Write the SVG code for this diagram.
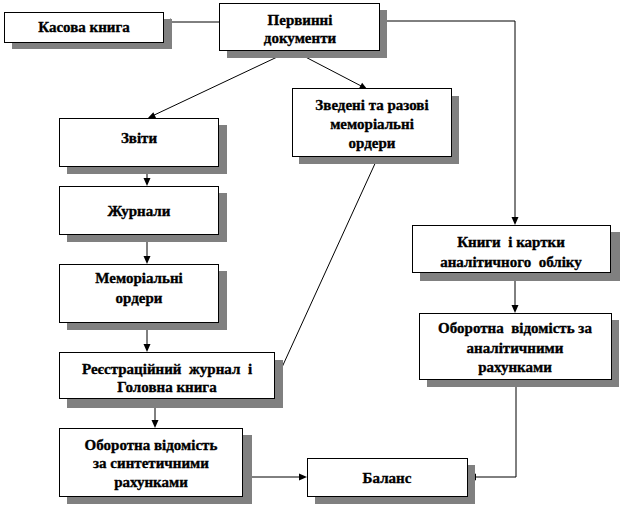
<svg xmlns="http://www.w3.org/2000/svg" width="621" height="507" viewBox="0 0 621 507">
<style>
.sh{fill:#808080}
.bx{fill:#fff;stroke:#000;stroke-width:1}
text{font-family:'Liberation Serif','DejaVu Serif',serif;font-weight:bold;font-size:15px;text-anchor:middle;fill:#000;stroke:#000;stroke-width:0.35}
.c{fill:none;stroke:#000;stroke-width:1}
</style>
<rect width="621" height="507" fill="#fff"/>
<g id="connectors" stroke="#000" stroke-width="1">
<path class="c" d="M219,22 H165"/>
<path d="M163,22 L171,18.5 L171,25.5 Z" fill="#000" stroke="none"/>
<path class="c" d="M292,50 L150,117"/>
<path d="M148,118 L153.3,112.2 L156.2,118.2 Z" fill="#000" stroke="none"/>
<path class="c" d="M292,50 L365,88"/>
<path d="M367,89 L359.0,88.6 L362.1,82.8 Z" fill="#000" stroke="none"/>
<path class="c" d="M380,21 H515 V223"/>
<path d="M515,225 L511.5,217 L518.5,217 Z" fill="#000" stroke="none"/>
<path class="c" d="M147,167 V184"/>
<path d="M147,186 L143.5,178 L150.5,178 Z" fill="#000" stroke="none"/>
<path class="c" d="M147,235 V262"/>
<path d="M147,264 L143.5,256 L150.5,256 Z" fill="#000" stroke="none"/>
<path class="c" d="M147,323 V350"/>
<path d="M147,352 L143.5,344 L150.5,344 Z" fill="#000" stroke="none"/>
<path class="c" d="M378,157 L278,376"/>
<path d="M277,378 L276.0,370.0 L282.2,372.9 Z" fill="#000" stroke="none"/>
<path class="c" d="M155,399 V426"/>
<path d="M155,428 L151.5,420 L158.5,420 Z" fill="#000" stroke="none"/>
<path class="c" d="M243,477 H305"/>
<path d="M307,477 L299,473.5 L299,480.5 Z" fill="#000" stroke="none"/>
<path class="c" d="M515,273 V311"/>
<path d="M515,313 L511.5,305 L518.5,305 Z" fill="#000" stroke="none"/>
<path class="c" d="M516,380 V477 H470"/>
<path d="M468,477 L476,473.5 L476,480.5 Z" fill="#000" stroke="none"/>
</g>
<g id="kasova">
<rect class="sh" x="12" y="19" width="160" height="30"/>
<rect class="bx" x="4.5" y="12.5" width="159" height="30"/>
<text x="84" y="32" font-family="Liberation Serif, DejaVu Serif, serif">Касова книга</text>
</g>
<g id="pervynni">
<rect class="sh" x="227" y="10" width="160" height="48"/>
<rect class="bx" x="219.5" y="3.5" width="160" height="47"/>
<text x="300" y="25" font-family="Liberation Serif, DejaVu Serif, serif">Первинні</text>
<text x="300" y="43" font-family="Liberation Serif, DejaVu Serif, serif">документи</text>
</g>
<g id="zvedeni">
<rect class="sh" x="299" y="96" width="160" height="68"/>
<rect class="bx" x="292.5" y="88.5" width="159" height="68"/>
<text x="372" y="110" font-family="Liberation Serif, DejaVu Serif, serif">Зведені та разові</text>
<text x="372" y="129" font-family="Liberation Serif, DejaVu Serif, serif">меморіальні</text>
<text x="372" y="148" font-family="Liberation Serif, DejaVu Serif, serif">ордери</text>
</g>
<g id="zvity">
<rect class="sh" x="67" y="125" width="160" height="49"/>
<rect class="bx" x="59.5" y="118.5" width="159" height="48"/>
<text x="139" y="143" font-family="Liberation Serif, DejaVu Serif, serif">Звіти</text>
</g>
<g id="zhurnaly">
<rect class="sh" x="67" y="193" width="160" height="49"/>
<rect class="bx" x="59.5" y="186.5" width="159" height="48"/>
<text x="139" y="216" font-family="Liberation Serif, DejaVu Serif, serif">Журнали</text>
</g>
<g id="memorialni">
<rect class="sh" x="67" y="271" width="160" height="59"/>
<rect class="bx" x="59.5" y="264.5" width="159" height="58"/>
<text x="139" y="283" font-family="Liberation Serif, DejaVu Serif, serif">Меморіальні</text>
<text x="139" y="303" font-family="Liberation Serif, DejaVu Serif, serif">ордери</text>
</g>
<g id="reiestr">
<rect class="sh" x="67" y="360" width="216" height="48"/>
<rect class="bx" x="59.5" y="352.5" width="215" height="46"/>
<text x="167" y="374" font-family="Liberation Serif, DejaVu Serif, serif" xml:space="preserve">Реєстраційний  журнал  і</text>
<text x="167" y="392" font-family="Liberation Serif, DejaVu Serif, serif">Головна книга</text>
</g>
<g id="oborot-synt">
<rect class="sh" x="67" y="435" width="185" height="69"/>
<rect class="bx" x="59.5" y="428.5" width="183" height="68"/>
<text x="151" y="450" font-family="Liberation Serif, DejaVu Serif, serif">Оборотна відомість</text>
<text x="151" y="468" font-family="Liberation Serif, DejaVu Serif, serif">за синтетичними</text>
<text x="151" y="487" font-family="Liberation Serif, DejaVu Serif, serif">рахунками</text>
</g>
<g id="balans">
<rect class="sh" x="315" y="465" width="160" height="39"/>
<rect class="bx" x="307.5" y="458.5" width="160" height="38"/>
<text x="387" y="483" font-family="Liberation Serif, DejaVu Serif, serif">Баланс</text>
</g>
<g id="knyhy">
<rect class="sh" x="420" y="232" width="200" height="49"/>
<rect class="bx" x="412.5" y="225.5" width="198" height="47"/>
<text x="511" y="247" font-family="Liberation Serif, DejaVu Serif, serif" xml:space="preserve">Книги  і картки</text>
<text x="511" y="267" font-family="Liberation Serif, DejaVu Serif, serif" xml:space="preserve">аналітичного  обліку</text>
</g>
<g id="oborot-anal">
<rect class="sh" x="427" y="320" width="192" height="67"/>
<rect class="bx" x="419.5" y="313.5" width="192" height="66"/>
<text x="515" y="333" font-family="Liberation Serif, DejaVu Serif, serif" xml:space="preserve">Оборотна  відомість за</text>
<text x="515" y="353" font-family="Liberation Serif, DejaVu Serif, serif">аналітичними</text>
<text x="515" y="372" font-family="Liberation Serif, DejaVu Serif, serif">рахунками</text>
</g>
</svg>
